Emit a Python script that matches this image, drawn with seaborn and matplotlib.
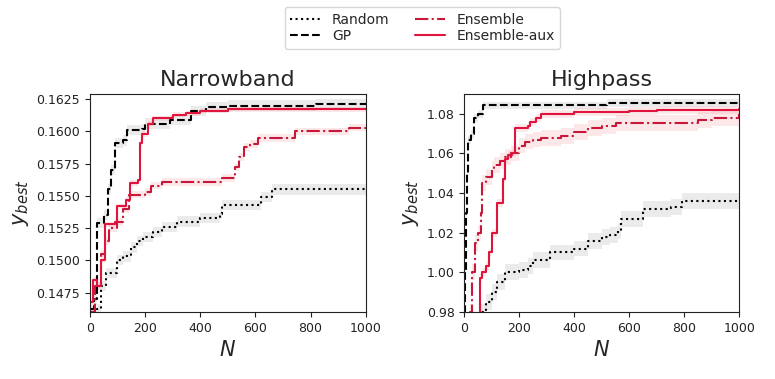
import numpy as np
import pandas as pd
import seaborn as sns
import matplotlib.pyplot as plt

# --- Narrowband: (N, y_best) step points ---
nb_random_n = [0, 24, 40, 60, 100, 121, 150, 170, 193, 230, 260, 314, 400, 472, 480, 600, 620, 660, 1000]
nb_random_y = [0.1458, 0.1462, 0.1480, 0.1490, 0.1500, 0.1503, 0.1510, 0.1515, 0.1518, 0.1522, 0.1526, 0.1530, 0.1533, 0.1536, 0.1543, 0.1543, 0.1549, 0.1555, 0.1555]

nb_gp_n = [0, 15, 25, 50, 65, 75, 90, 120, 135, 190, 200, 290, 365, 420, 500, 820, 1000]
nb_gp_y = [0.1462, 0.1470, 0.1529, 0.1535, 0.1555, 0.1570, 0.1591, 0.1593, 0.1601, 0.1602, 0.1606, 0.1609, 0.1616, 0.1619, 0.1620, 0.1621, 0.1621]

nb_ens_n = [0, 20, 40, 55, 70, 100, 120, 140, 200, 220, 260, 480, 525, 540, 560, 580, 610, 745, 940, 1000]
nb_ens_y = [0.1460, 0.1480, 0.1505, 0.1515, 0.1525, 0.1530, 0.1540, 0.1551, 0.1553, 0.1558, 0.1561, 0.1564, 0.1572, 0.1580, 0.1588, 0.1590, 0.1595, 0.1600, 0.1603, 0.1604]

nb_aux_n = [0, 10, 25, 40, 55, 90, 100, 130, 145, 175, 180, 190, 210, 230, 300, 350, 400, 500, 1000]
nb_aux_y = [0.1468, 0.1485, 0.1480, 0.1500, 0.1528, 0.1530, 0.1542, 0.1547, 0.1560, 0.1562, 0.1591, 0.1598, 0.1606, 0.1610, 0.1613, 0.1614, 0.1616, 0.1617, 0.1617]

# --- Highpass ---
hp_random_n = [0, 60, 80, 100, 120, 150, 200, 230, 250, 310, 400, 450, 500, 530, 560, 570, 650, 750, 790, 1000]
hp_random_y = [0.975, 0.980, 0.985, 0.990, 0.995, 1.000, 1.001, 1.003, 1.006, 1.010, 1.012, 1.016, 1.018, 1.019, 1.021, 1.027, 1.032, 1.033, 1.036, 1.0365]

hp_gp_n = [0, 3, 6, 10, 15, 25, 35, 50, 70, 520, 1000]
hp_gp_y = [0.980, 1.000, 1.030, 1.050, 1.067, 1.070, 1.078, 1.080, 1.0842, 1.0855, 1.0855]

hp_ens_n = [0, 20, 30, 40, 50, 60, 65, 80, 100, 110, 130, 150, 170, 200, 220, 250, 280, 350, 400, 450, 500, 550, 800, 850, 900, 1000]
hp_ens_y = [0.970, 0.980, 1.000, 1.015, 1.020, 1.030, 1.045, 1.048, 1.052, 1.054, 1.056, 1.058, 1.060, 1.064, 1.066, 1.067, 1.068, 1.069, 1.071, 1.073, 1.074, 1.0755, 1.0755, 1.077, 1.078, 1.080]

hp_aux_n = [0, 50, 57, 65, 80, 90, 100, 115, 120, 142, 148, 160, 175, 185, 230, 240, 260, 280, 400, 600, 700, 1000]
hp_aux_y = [0.960, 0.975, 0.997, 1.000, 1.003, 1.010, 1.020, 1.020, 1.035, 1.047, 1.057, 1.059, 1.060, 1.073, 1.074, 1.076, 1.078, 1.080, 1.081, 1.0815, 1.082, 1.0825]

methods = ["Random", "GP", "Ensemble", "Ensemble-aux"]
colors = {"Random": "black", "GP": "black", "Ensemble": "#c8183a", "Ensemble-aux": "#e0143c"}
styles = {"Random": ":", "GP": "--", "Ensemble": "-.", "Ensemble-aux": "-"}
band_colors = {"Random": "#b0b0b0", "GP": "#b0b0b0", "Ensemble": "#f4a0a8", "Ensemble-aux": "#f4a0a8"}
nb_band = {"Random": 0.0004, "GP": 0.0004, "Ensemble": 0.0003, "Ensemble-aux": 0.0002}
hp_band = {"Random": 0.004, "GP": 0.002, "Ensemble": 0.004, "Ensemble-aux": 0.002}

panels = [
    ("Narrowband", {"Random": (nb_random_n, nb_random_y), "GP": (nb_gp_n, nb_gp_y),
                    "Ensemble": (nb_ens_n, nb_ens_y), "Ensemble-aux": (nb_aux_n, nb_aux_y)},
     nb_band, (0.146, 0.1629), [0.1475, 0.15, 0.1525, 0.155, 0.1575, 0.16, 0.1625], "{:.4f}"),
    ("Highpass", {"Random": (hp_random_n, hp_random_y), "GP": (hp_gp_n, hp_gp_y),
                  "Ensemble": (hp_ens_n, hp_ens_y), "Ensemble-aux": (hp_aux_n, hp_aux_y)},
     hp_band, (0.98, 1.09), [0.98, 1.0, 1.02, 1.04, 1.06, 1.08], "{:.2f}"),
]

sns.set_style("ticks")
fig = plt.figure(figsize=(7.75, 3.79), dpi=100)
ax_pos = [[0.116, 0.177, 0.356, 0.575], [0.599, 0.177, 0.355, 0.575]]

for pos, (title, series, band, ylim, yticks, fmt) in zip(ax_pos, panels):
    ax = fig.add_axes(pos)
    for m in methods:
        n, y = series[m]
        df = pd.DataFrame({"N": n, "y": y})
        ax.fill_between(df["N"], df["y"] - band[m], df["y"] + band[m], step="post",
                        color=band_colors[m], alpha=0.25, lw=0)
        sns.lineplot(data=df, x="N", y="y", ax=ax, color=colors[m], linestyle=styles[m],
                     drawstyle="steps-post", lw=1.5, label=m, legend=False)
    ax.set_xlim(0, 1000)
    ax.set_ylim(*ylim)
    ax.set_xticks([0, 200, 400, 600, 800, 1000])
    ax.set_yticks(yticks)
    ax.set_yticklabels([fmt.format(v) for v in yticks])
    ax.tick_params(labelsize=9, colors="#222222")
    for s in ax.spines.values():
        s.set_color("#222222")
    ax.set_title(title, fontsize=16)
    ax.set_xlabel("$N$", fontsize=15)
    ax.set_ylabel("$y_{best}$", fontsize=15)

handles, labels = ax.get_legend_handles_labels()
fig.legend(handles, labels, loc="upper center", bbox_to_anchor=(0.545, 1.0), ncol=2,
           fontsize=10, frameon=True, handlelength=2.2, columnspacing=1.8, labelspacing=0.2)

fig.savefig("out.png", dpi=100)
